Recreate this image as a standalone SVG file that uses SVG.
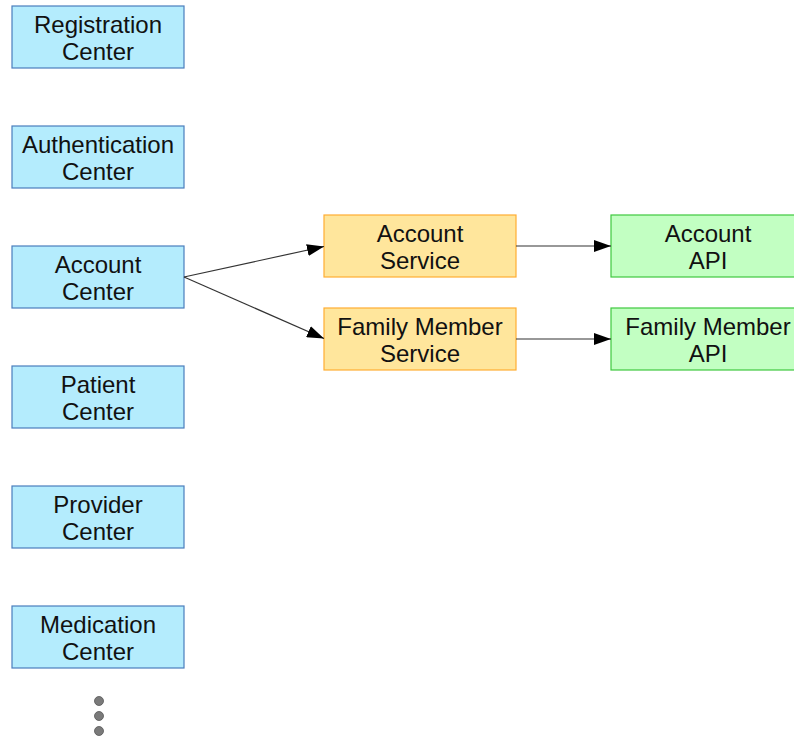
<svg xmlns="http://www.w3.org/2000/svg" width="794" height="737" viewBox="0 0 794 737">
<defs>
<style>
.b{fill:#b4ecfd;stroke:#4a7ebd;stroke-width:1.2}
.o{fill:#ffe69c;stroke:#ffad33;stroke-width:1.2}
.g{fill:#c2ffc2;stroke:#3ec93e;stroke-width:1.2}
text{font-family:"Liberation Sans",Arial,sans-serif;font-size:24px;fill:#111;text-anchor:middle}
.c line{stroke:#333;stroke-width:1.2;marker-end:url(#ah)}
.d{fill:#7a7a7a;stroke:#555;stroke-width:0.8}
</style>
<marker id="ah" viewBox="0 0 17 12" refX="17" refY="6" markerWidth="17" markerHeight="12" markerUnits="userSpaceOnUse" orient="auto">
<path d="M0,0 L17,6 L0,12 z" fill="#000"/>
</marker>
</defs>
<rect width="794" height="737" fill="#fff"/>
<g id="registration-center"><rect class="b" x="12" y="6" width="172" height="62"/><text x="98" y="32.5">Registration</text><text x="98" y="59.5">Center</text></g>
<g id="authentication-center"><rect class="b" x="12" y="126" width="172" height="62"/><text x="98" y="152.5">Authentication</text><text x="98" y="179.5">Center</text></g>
<g id="account-center"><rect class="b" x="12" y="246" width="172" height="62"/><text x="98" y="272.5">Account</text><text x="98" y="299.5">Center</text></g>
<g id="patient-center"><rect class="b" x="12" y="366" width="172" height="62"/><text x="98" y="392.5">Patient</text><text x="98" y="419.5">Center</text></g>
<g id="provider-center"><rect class="b" x="12" y="486" width="172" height="62"/><text x="98" y="512.5">Provider</text><text x="98" y="539.5">Center</text></g>
<g id="medication-center"><rect class="b" x="12" y="606" width="172" height="62"/><text x="98" y="632.5">Medication</text><text x="98" y="659.5">Center</text></g>
<g id="account-service"><rect class="o" x="324" y="215" width="192" height="62"/><text x="420" y="241.5">Account</text><text x="420" y="268.5">Service</text></g>
<g id="family-member-service"><rect class="o" x="324" y="308" width="192" height="62"/><text x="420" y="334.5">Family Member</text><text x="420" y="361.5">Service</text></g>
<g id="account-api"><rect class="g" x="611" y="215" width="194" height="62"/><text x="708" y="241.5">Account</text><text x="708" y="268.5">API</text></g>
<g id="family-member-api"><rect class="g" x="611" y="308" width="194" height="62"/><text x="708" y="334.5">Family Member</text><text x="708" y="361.5">API</text></g>
<g id="connectors" class="c">
<line x1="184" y1="277" x2="324" y2="246.5"/>
<line x1="184" y1="277" x2="324" y2="338.5"/>
<line x1="516" y1="246" x2="611" y2="246"/>
<line x1="516" y1="339" x2="611" y2="339"/>
</g>
<g id="ellipsis">
<circle class="d" cx="99" cy="701" r="4.5"/>
<circle class="d" cx="99" cy="716" r="4.5"/>
<circle class="d" cx="99" cy="731" r="4.5"/>
</g>
</svg>
